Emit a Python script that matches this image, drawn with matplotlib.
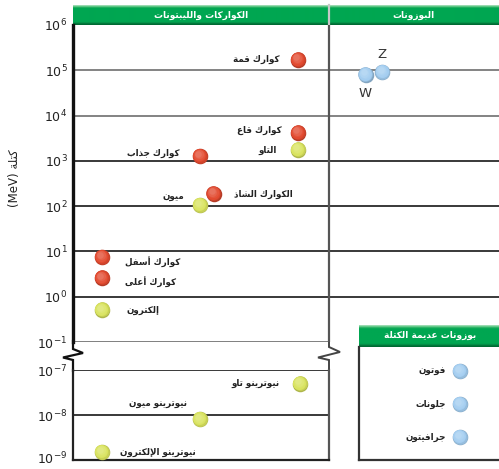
import numpy as np
import matplotlib
matplotlib.use("Agg")
from matplotlib import pyplot as plt
from matplotlib import transforms as mtransforms
from matplotlib.colors import to_rgb

plt.rcParams['font.family'] = ['DejaVu Sans']
plt.rcParams['mathtext.fontset'] = 'stix'

# particle data: name, generation column, mass in MeV
quark_names = ['كوارك قمة', 'كوارك قاع', 'كوارك جذاب', 'الكوارك الشاذ',
               'كوارك أسفل', 'كوارك أعلى']
quark_gen = [3, 3, 2, 2.14, 1, 1]
quark_mass = [173000, 4180, 1270, 190, 7.5, 2.6]

lepton_names = ['التاو', 'ميون', 'إلكترون']
lepton_gen = [3, 2, 1]
lepton_mass = [1777, 105.7, 0.511]

neutrino_names = ['نيوترينو تاو', 'نيوترينو ميون', 'نيوترينو الإلكترون']
neutrino_gen = [3.02, 2, 1]
neutrino_mass = [5e-8, 8e-9, 1.5e-9]

boson_names = ['W', 'Z']
boson_gen = [3.69, 3.86]
boson_mass = [80400, 91200]

massless_names = ['فوتون', 'جلونات', 'جرافيتون']

upper_ticks = [1e-1, 1e0, 1e1, 1e2, 1e3, 1e4, 1e5, 1e6]
upper_labels = ['-1', '0', '1', '2', '3', '4', '5', '6']
lower_ticks = [1e-9, 1e-8, 1e-7]
lower_labels = ['-9', '-8', '-7']

# --- minimal Arabic shaping (DejaVu has the presentation forms) ---
FORMS = {
    'ا': ('\uFE8D', '\uFE8E', None, None),
    'أ': ('\uFE83', '\uFE84', None, None),
    'إ': ('\uFE87', '\uFE88', None, None),
    'ب': ('\uFE8F', '\uFE90', '\uFE91', '\uFE92'),
    'ة': ('\uFE93', '\uFE94', None, None),
    'ت': ('\uFE95', '\uFE96', '\uFE97', '\uFE98'),
    'ج': ('\uFE9D', '\uFE9E', '\uFE9F', '\uFEA0'),
    'د': ('\uFEA9', '\uFEAA', None, None),
    'ذ': ('\uFEAB', '\uFEAC', None, None),
    'ر': ('\uFEAD', '\uFEAE', None, None),
    'ز': ('\uFEAF', '\uFEB0', None, None),
    'س': ('\uFEB1', '\uFEB2', '\uFEB3', '\uFEB4'),
    'ش': ('\uFEB5', '\uFEB6', '\uFEB7', '\uFEB8'),
    'ع': ('\uFEC9', '\uFECA', '\uFECB', '\uFECC'),
    'ف': ('\uFED1', '\uFED2', '\uFED3', '\uFED4'),
    'ق': ('\uFED5', '\uFED6', '\uFED7', '\uFED8'),
    'ك': ('\uFED9', '\uFEDA', '\uFEDB', '\uFEDC'),
    'ل': ('\uFEDD', '\uFEDE', '\uFEDF', '\uFEE0'),
    'م': ('\uFEE1', '\uFEE2', '\uFEE3', '\uFEE4'),
    'ن': ('\uFEE5', '\uFEE6', '\uFEE7', '\uFEE8'),
    'ه': ('\uFEE9', '\uFEEA', '\uFEEB', '\uFEEC'),
    'و': ('\uFEED', '\uFEEE', None, None),
    'ى': ('\uFEEF', '\uFEF0', None, None),
    'ي': ('\uFEF1', '\uFEF2', '\uFEF3', '\uFEF4'),
}
LAM_ALEF = {'ا': ('\uFEFB', '\uFEFC'), 'أ': ('\uFEF7', '\uFEF8'),
            'إ': ('\uFEF9', '\uFEFA')}


def shape(text):
    out = []
    link = False
    i = 0
    while i < len(text):
        c = text[i]
        nxt = text[i + 1] if i + 1 < len(text) else ''
        if c not in FORMS:
            out.append(c)
            link = False
            i += 1
            continue
        if c == 'ل' and nxt in LAM_ALEF:
            iso, fin = LAM_ALEF[nxt]
            out.append(fin if link else iso)
            link = False
            i += 2
            continue
        iso, fin, ini, med = FORMS[c]
        to_next = ini is not None and nxt in FORMS
        if link and to_next:
            out.append(med)
        elif link:
            out.append(fin)
        elif to_next:
            out.append(ini)
        else:
            out.append(iso)
        link = to_next
        i += 1
    return ''.join(reversed(out))


def shade(color, f):
    c = np.array(to_rgb(color))
    if f > 0:
        return tuple(c + (1 - c) * f)
    return tuple(c * (1 + f))


def balls(ax, xs, ys, color, size=125):
    # layered circles to fake a lit sphere
    fig = ax.figure
    ax.scatter(xs, ys, s=size, color=shade(color, -0.2), zorder=5, lw=0)
    layers = [(-0.08, 0.9), (0.0, 0.72), (0.06, 0.52), (0.13, 0.34), (0.22, 0.18)]
    for k, (f, r) in enumerate(layers):
        off = mtransforms.offset_copy(ax.transData, fig=fig, x=-0.35 * (k + 1),
                                      y=0.45 * (k + 1), units='dots')
        ax.scatter(xs, ys, s=size * r, color=shade(color, f), zorder=6 + k,
                   lw=0, transform=off)


RED = '#e24a30'
YEL = '#d9e35f'
BLUE = '#a3cdf0'

fig = plt.figure(figsize=(4.99, 4.69), dpi=100)
W, H = 499, 469


def frac(x0, y0, x1, y1):
    return [x0 / W, 1 - y1 / H, (x1 - x0) / W, (y1 - y0) / H]


# decoration layer in pixel coordinates
deco = fig.add_axes([0, 0, 1, 1], zorder=0)
deco.set_xlim(0, W)
deco.set_ylim(H, 0)
deco.axis('off')

grad = np.ones((20, 1, 3)) * np.array(to_rgb('#00a651'))
for r, c in enumerate(['#9adbb0', '#5cc786', '#22af5f']):
    grad[r, 0] = to_rgb(c)
for r, c in enumerate(['#05954a', '#007a3c', '#006a33']):
    grad[17 + r, 0] = to_rgb(c)
deco.imshow(grad, extent=(73, 499, 25, 5), aspect='auto', interpolation='bilinear')
deco.imshow(grad, extent=(359, 499, 347, 325), aspect='auto', interpolation='bilinear')
deco.plot([329, 329], [5, 25], color='#c8c8c8', lw=1.6)
deco.text(201, 15.5, shape('الكواركات والليبتونات'), color='white', fontsize=6.5,
          fontweight='bold', ha='center', va='center')
deco.text(414, 15.5, shape('البوزونات'), color='white', fontsize=6.5,
          fontweight='bold', ha='center', va='center')
deco.text(430, 335.5, shape('بوزونات عديمة الكتلة'), color='white', fontsize=6.5,
          fontweight='bold', ha='center', va='center')

# axis breaks
deco.plot([73, 73, 83, 63, 73, 73], [341, 349, 353, 357.5, 360, 371],
          color='#111', lw=1.6, solid_joinstyle='miter')
deco.plot([329, 329, 340, 318, 329, 329], [341, 347, 352, 357.5, 360, 371],
          color='#444', lw=1.4, solid_joinstyle='miter')

deco.text(15, 178, '(MeV) ' + shape('كتلة'), rotation=90, ha='center', va='center',
          fontsize=8.5, color='#222')

# upper panel: 1e-1 .. 1e6
ax = fig.add_axes(frac(73, 25, 499, 342), zorder=2)
ax.patch.set_alpha(0)
ax.set_yscale('log')
ax.set_ylim(1e-1, 1e6)
ax.set_xlim(0.7041, 5.051)
for s in ['top', 'right', 'bottom']:
    ax.spines[s].set_visible(False)
ax.spines['left'].set_linewidth(2.4)
ax.spines['left'].set_color('#111')
ax.set_xticks([])
ax.set_yticks(upper_ticks, [r'$\mathregular{10^{%s}}$' % l for l in upper_labels])
ax.minorticks_off()
ax.tick_params(axis='y', length=0, pad=4, labelsize=9, labelcolor='#222')
for v in upper_ticks[1:-1]:
    col = '#7a7a7a' if v >= 1e4 else '#2a2a2a'
    ax.axhline(v, color=col, lw=1.3, zorder=1)
ax.axhline(1e-1, xmax=256 / 426, color='#6a6a6a', lw=1.2, zorder=1)
ax.axvline(3.316, color='#555', lw=1.6, zorder=1)

# lower panel: 1e-9 .. 1e-7
axl = fig.add_axes(frac(73, 370, 329, 460), zorder=2)
axl.patch.set_alpha(0)
axl.set_yscale('log')
axl.set_ylim(1e-9, 1e-7)
axl.set_xlim(0.7041, 3.316)
axl.spines['top'].set_visible(False)
axl.spines['left'].set_linewidth(1.6)
axl.spines['left'].set_color('#222')
axl.spines['bottom'].set_linewidth(1.6)
axl.spines['bottom'].set_color('#222')
axl.spines['right'].set_linewidth(1.6)
axl.spines['right'].set_color('#555')
axl.set_xticks([])
axl.set_yticks(lower_ticks, [r'$\mathregular{10^{%s}}$' % l for l in lower_labels])
axl.minorticks_off()
axl.tick_params(axis='y', length=0, pad=4, labelsize=9, labelcolor='#222')
# keep the bottom label inside the figure
lift = mtransforms.ScaledTranslation(0, 3 / 100, fig.dpi_scale_trans)
bottom_lab = axl.get_yticklabels()[0]
bottom_lab.set_transform(bottom_lab.get_transform() + lift)
axl.axhline(1e-8, color='#2a2a2a', lw=1.3, zorder=1)
axl.axhline(1e-7, color='#2a2a2a', lw=1.3, zorder=1)

# massless bosons box
axm = fig.add_axes(frac(359, 347, 499, 460), zorder=2)
axm.set_xlim(0, 1)
axm.set_ylim(2.697, -0.727)
axm.set_xticks([])
axm.set_yticks([])
axm.spines['top'].set_visible(False)
axm.spines['right'].set_visible(False)
for s in ['left', 'bottom']:
    axm.spines[s].set_linewidth(1.6)
    axm.spines[s].set_color('#333')

balls(ax, quark_gen, quark_mass, RED)
balls(ax, lepton_gen, lepton_mass, YEL)
balls(axl, neutrino_gen, neutrino_mass, YEL)
balls(ax, boson_gen, boson_mass, BLUE)
mrow = np.arange(len(massless_names))
balls(axm, [0.721] * len(mrow), mrow, BLUE)

lab = dict(textcoords='offset pixels', fontsize=6.3, fontweight='bold',
           color='#222', va='center')
q_off = [(-18, 0, 'right'), (-16, 2, 'right'), (-20, 3, 'right'),
         (20, -1, 'left'), (23, -4, 'left'), (23, -4, 'left')]
for n, x, m, (dx, dy, ha) in zip(quark_names, quark_gen, quark_mass, q_off):
    ax.annotate(shape(n), (x, m), xytext=(dx, dy), ha=ha, **lab)
l_off = [(-21, -1, 'right'), (-16, 9, 'right'), (25, -1, 'left')]
for n, x, m, (dx, dy, ha) in zip(lepton_names, lepton_gen, lepton_mass, l_off):
    ax.annotate(shape(n), (x, m), xytext=(dx, dy), ha=ha, **lab)
n_off = [(-20, 0, 'right'), (-13, 16, 'right'), (18, 0, 'left')]
for n, x, m, (dx, dy, ha) in zip(neutrino_names, neutrino_gen, neutrino_mass, n_off):
    axl.annotate(shape(n), (x, m), xytext=(dx, dy), ha=ha, **lab)
for n, x, m, dy in zip(boson_names, boson_gen, boson_mass, [-19, 18]):
    ax.annotate(n, (x, m), xytext=(0, dy), textcoords='offset pixels',
                ha='center', va='center', fontsize=9.5, color='#333')
for n, r in zip(massless_names, mrow):
    axm.annotate(shape(n), (0.721, r), xytext=(-14, 0), ha='right', **lab)

fig.savefig('out.png', dpi=100)
